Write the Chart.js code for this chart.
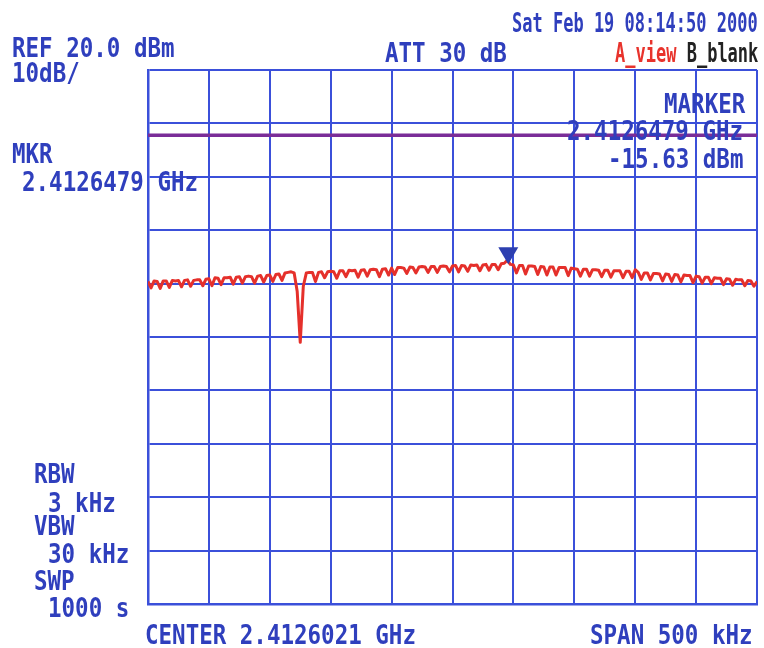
<!DOCTYPE html>
<html>
<head>
<meta charset="utf-8">
<script src="https://cdn.jsdelivr.net/npm/chart.js@4.4.1/dist/chart.umd.min.js"></script>
<style>
  html, body { margin: 0; padding: 0; background: #fff; }
  #wrap { position: relative; width: 764px; height: 648px; overflow: hidden; }
  #screen { position: absolute; left: 0; top: 0; }
  .lbl {
    position: absolute;
    font-family: "DejaVu Sans Mono", monospace;
    font-weight: bold;
    font-size: 22.5px;
    line-height: 1;
    color: #2f3fbd;
    white-space: pre;
    transform-origin: 0 0;
    transform: scale(1, 1.22);
  }
  .small { font-size: 17px; transform: scale(1, 1.55); }
  .red { color: #e8332c; }
  .black { color: #222; }
</style>
</head>
<body>
<div id="wrap">
  <canvas id="screen" width="764" height="648"></canvas>

  <div class="lbl" style="left:12px;top:34px">REF 20.0 dBm</div>
  <div class="lbl" style="left:12px;top:59px">10dB/</div>
  <div class="lbl" style="left:385px;top:39px">ATT 30 dB</div>
  <div class="lbl small" style="left:512px;top:10px">Sat Feb 19 08:14:50 2000</div>
  <div class="lbl small" style="left:615px;top:40px"><span class="red">A_view</span> <span class="black">B_blank</span></div>

  <div class="lbl" style="left:12px;top:140px">MKR</div>
  <div class="lbl" style="left:22px;top:168px">2.4126479 GHz</div>

  <div class="lbl" style="left:664px;top:90px">MARKER</div>
  <div class="lbl" style="left:567px;top:117px">2.4126479 GHz</div>
  <div class="lbl" style="left:608px;top:145px">-15.63 dBm</div>

  <div class="lbl" style="left:34px;top:460px">RBW</div>
  <div class="lbl" style="left:48px;top:489px">3 kHz</div>
  <div class="lbl" style="left:34px;top:512px">VBW</div>
  <div class="lbl" style="left:48px;top:540px">30 kHz</div>
  <div class="lbl" style="left:34px;top:567px">SWP</div>
  <div class="lbl" style="left:48px;top:594px">1000 s</div>

  <div class="lbl" style="left:145px;top:621px">CENTER 2.4126021 GHz</div>
  <div class="lbl" style="left:590px;top:621px">SPAN 500 kHz</div>
</div>

<script>
// Sweep settings (offset from center, kHz) and screen scale (dBm)
const spanStartKHz = -250;
const spanEndKHz = 250;
const sweepStepKHz = 2.5;
const refLevelDbm = 20;
const bottomLevelDbm = -80;
const dbPerDiv = 10;
const kHzPerDiv = 50;

// Trace A, one row per horizontal division
const traceDbm = [
  -19.6, -20.8, -19.5, -19.6, -20.9, -19.5, -19.5, -20.7, -19.4, -19.5, -19.4, -20.6, -19.4, -19.3, -20.5, -19.4, -19.3, -19.3, -20.4, -19.2,
  -19.1, -20.4, -18.9, -19.0, -20.2, -18.9, -18.9, -18.8, -20.1, -18.8, -18.7, -19.9, -18.7, -18.6, -18.7, -19.9, -18.6, -18.5, -19.7, -18.5,
  -18.4, -19.6, -18.3, -18.2, -19.4, -18.0, -17.9, -17.8, -18.0, -21.5, -31.0, -20.5, -18.0, -17.9, -17.9, -19.6, -17.9, -17.8, -18.9, -17.8,
  -17.7, -17.8, -19.0, -17.6, -17.6, -18.7, -17.5, -17.6, -17.5, -18.8, -17.5, -17.4, -18.6, -17.4, -17.3, -17.4, -18.7, -17.3, -17.2, -18.4,
  -17.1, -18.3, -17.0, -17.0, -17.1, -18.1, -16.9, -17.0, -18.0, -16.9, -16.8, -16.9, -17.9, -16.8, -16.8, -17.9, -16.8, -16.7, -16.8, -17.8,
  -16.7, -16.6, -17.8, -16.6, -16.7, -17.7, -16.5, -16.6, -16.5, -17.6, -16.5, -16.4, -17.5, -16.4, -16.4, -17.4, -16.3, -16.2, -15.63, -16.4,
  -16.5, -18.0, -16.6, -16.6, -18.2, -16.7, -16.7, -16.8, -18.3, -16.8, -16.9, -18.4, -16.9, -16.9, -18.4, -17.0, -17.0, -17.0, -18.5, -17.1,
  -17.2, -17.3, -18.6, -17.3, -17.3, -18.6, -17.4, -17.4, -17.5, -18.7, -17.5, -17.5, -18.8, -17.6, -17.6, -17.6, -18.9, -17.7, -17.7, -18.9,
  -17.4, -17.9, -19.2, -18.0, -18.0, -19.3, -18.1, -18.1, -18.2, -19.5, -18.2, -18.3, -19.6, -18.3, -18.4, -19.7, -18.4, -18.5, -18.5, -19.8,
  -18.6, -18.7, -19.9, -18.8, -18.8, -20.0, -18.9, -19.0, -19.0, -20.2, -19.1, -19.2, -20.3, -19.2, -19.3, -19.3, -20.4, -19.4, -19.5, -20.5, -19.6
];

// Display line (purple) and marker
const displayLineDbm = 7.8;
const markerKHz = 45.8;
const markerDbm = -15.63;

// sweep bin frequencies
const sweepKHz = traceDbm.map((v, i) => spanStartKHz + i * sweepStepKHz);
const tracePoints = sweepKHz.map((f, i) => ({ x: f, y: traceDbm[i] }));
const displayLinePoints = [
  { x: spanStartKHz, y: displayLineDbm },
  { x: spanEndKHz, y: displayLineDbm }
];

const gridBlue = '#3b50da';

// white paper
const paperPlugin = {
  id: 'paper',
  beforeDraw(chart) {
    const c = chart.ctx;
    c.save();
    c.fillStyle = '#fff';
    c.fillRect(0, 0, chart.width, chart.height);
    c.restore();
  }
};

// marker triangle sitting on the trace
const markerPlugin = {
  id: 'marker',
  afterDatasetsDraw(chart) {
    const c = chart.ctx;
    const px = chart.scales.x.getPixelForValue(markerKHz);
    const py = chart.scales.y.getPixelForValue(markerDbm);
    c.save();
    c.fillStyle = '#2d3fb0';
    c.beginPath();
    c.moveTo(px, py + 4);
    c.lineTo(px - 10, py - 13);
    c.lineTo(px + 10, py - 13);
    c.closePath();
    c.fill();
    c.restore();
  }
};

new Chart(document.getElementById('screen').getContext('2d'), {
  type: 'line',
  data: {
    datasets: [
      {
        label: 'Display line',
        data: displayLinePoints,
        borderColor: '#7a2d98',
        borderWidth: 3.5,
        pointRadius: 0
      },
      {
        label: 'A_view',
        data: tracePoints,
        borderColor: '#e5302b',
        borderWidth: 3,
        borderJoinStyle: 'round',
        pointRadius: 0,
        tension: 0
      }
    ]
  },
  options: {
    responsive: false,
    animation: false,
    layout: { padding: { left: 148, right: 7, top: 70, bottom: 44 } },
    plugins: {
      legend: { display: false },
      tooltip: { enabled: false }
    },
    scales: {
      x: {
        type: 'linear',
        min: spanStartKHz,
        max: spanEndKHz,
        ticks: { display: false, stepSize: kHzPerDiv },
        grid: { color: gridBlue, lineWidth: 2, drawTicks: false },
        border: { display: true, color: gridBlue, width: 2.5 }
      },
      y: {
        min: bottomLevelDbm,
        max: refLevelDbm,
        ticks: { display: false, stepSize: dbPerDiv },
        grid: { color: gridBlue, lineWidth: 2, drawTicks: false },
        border: { display: true, color: gridBlue, width: 2.5 }
      }
    }
  },
  plugins: [paperPlugin, markerPlugin]
});
</script>
</body>
</html>
